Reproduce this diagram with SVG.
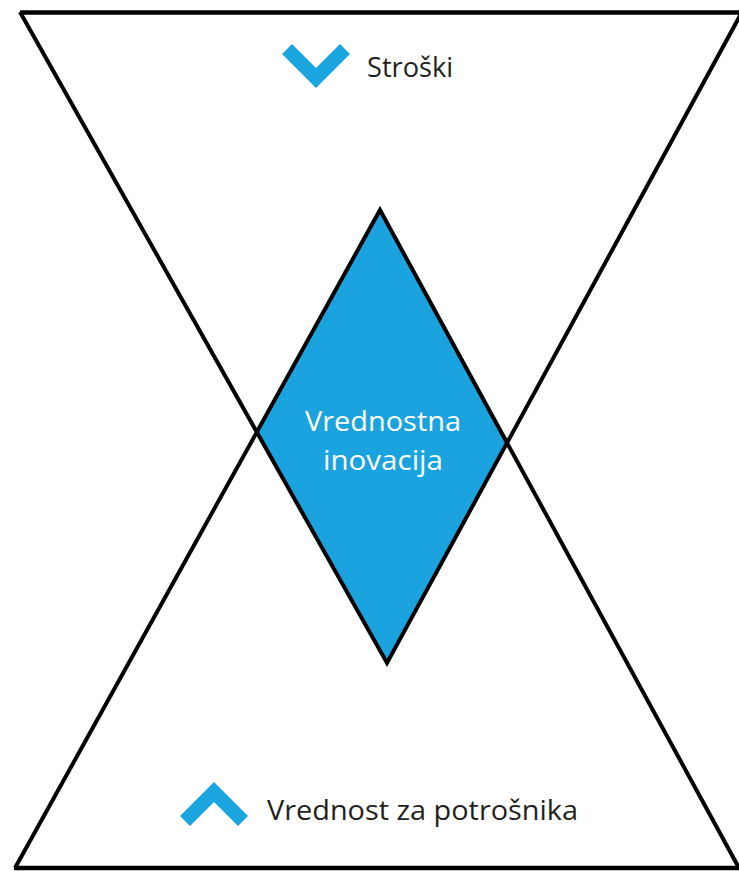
<svg xmlns="http://www.w3.org/2000/svg" width="739" height="871" viewBox="0 0 739 871">
  <style>
    .line { fill: none; stroke: #000; stroke-width: 4; stroke-linejoin: miter; }
    .edge { fill: none; stroke: #000; stroke-width: 4.5; }
    .chev { fill: #1ba6e2; }
    .lbl { font-family: "Open Sans", "Liberation Sans", sans-serif; font-size: 28px; fill: #231f20; }
    .inner { font-family: "Open Sans", "Liberation Sans", sans-serif; font-size: 28px; fill: #ffffff; text-anchor: middle; }
  </style>
  <rect width="739" height="871" fill="#ffffff"/>
  <g id="diamond">
    <polygon points="380,210 507,440 387,663 257,432" fill="#1ba3e0"/>
    <text class="inner" x="383" y="431" textLength="156" lengthAdjust="spacingAndGlyphs">Vrednostna</text>
    <text class="inner" x="383" y="470" textLength="120" lengthAdjust="spacingAndGlyphs">inovacija</text>
  </g>
  <g id="connectors">
    <polyline class="line" points="20,12 387,663 742,12"/>
    <polyline class="line" points="15,868 380,210 739,868"/>
    <line class="edge" x1="20" y1="12.5" x2="739" y2="12.5"/>
    <line class="edge" x1="14" y1="868" x2="739" y2="868"/>
  </g>
  <g id="costs">
    <polygon class="chev" points="316,88 282,54 292,44 316,68 340,44 350,54"/>
    <text class="lbl" x="367" y="77" textLength="86" lengthAdjust="spacingAndGlyphs">Stroški</text>
  </g>
  <g id="value">
    <polygon class="chev" points="214,782 248,816 238,826 214,802 190,826 180,816"/>
    <text class="lbl" x="267" y="820" textLength="311" lengthAdjust="spacingAndGlyphs">Vrednost za potrošnika</text>
  </g>
</svg>
